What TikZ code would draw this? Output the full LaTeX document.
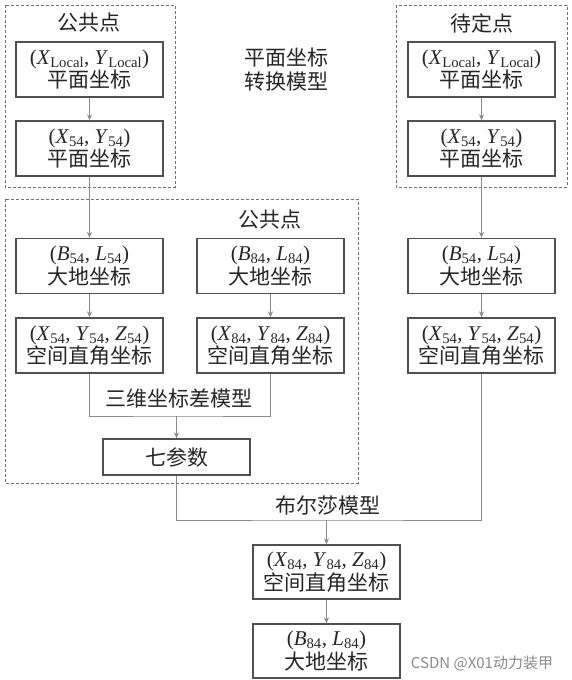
\documentclass[tikz,border=0pt]{standalone}
\usepackage{fontspec}
\setmainfont{Liberation Serif}
\newfontfamily\cjk{Noto Sans CJK SC}
\usetikzlibrary{arrows.meta}
\definecolor{boxc}{HTML}{505050}
\definecolor{linec}{HTML}{8A8A8A}
\definecolor{dashc}{HTML}{707070}
\definecolor{txtc}{HTML}{262626}
\newcommand{\zh}[1]{{\cjk #1}}
\newcommand{\vs}[2]{\textit{#1}\textsubscript{#2}}
\begin{document}
\begin{tikzpicture}[x=1pt,y=-1pt,
  every node/.style={text=txtc},
  box/.style={draw=boxc, line width=1.3pt, minimum width=147pt, minimum height=55pt,
    align=center, inner sep=0pt, font=\fontsize{21}{23.5}\selectfont},
  conn/.style={draw=linec, line width=1pt},
  arr/.style={conn, -{Stealth[length=6pt,width=5pt]}},
  grp/.style={draw=dashc, line width=0.8pt, dash pattern=on 3pt off 2pt},
  lbl/.style={font=\fontsize{21}{25}\selectfont\cjk, inner sep=0pt, align=center}]
\useasboundingbox[fill=white] (0,0) rectangle (572,680);

% dashed groups
\draw[grp] (5,5) rectangle (175,187);
\draw[grp] (396,5) rectangle (567,187);
\draw[grp] (5,199) rectangle (358,483);

% group labels
\node[lbl] (g1) at (89,23) {公共点};
\node[lbl] (g2) at (482,23) {待定点};
\node[lbl] (g3) at (270,220) {公共点};
\node[lbl] (m1) at (286,70) {平面坐标\\[-1pt]转换模型};

% left top column
\node[box] (a1) at (89.5,69.5) {(\vs{X}{Local}, \vs{Y}{Local})\\\zh{平面坐标}};
\node[box] (a2) at (89.5,148.5) {(\vs{X}{54}, \vs{Y}{54})\\\zh{平面坐标}};
% right top column
\node[box] (r1) at (481.5,69.5) {(\vs{X}{Local}, \vs{Y}{Local})\\\zh{平面坐标}};
\node[box] (r2) at (481.5,148.5) {(\vs{X}{54}, \vs{Y}{54})\\\zh{平面坐标}};

% middle rows
\node[box] (b1) at (89.5,266) {(\vs{B}{54}, \vs{L}{54})\\\zh{大地坐标}};
\node[box] (b2) at (270.5,266) {(\vs{B}{84}, \vs{L}{84})\\\zh{大地坐标}};
\node[box] (r3) at (481.5,266) {(\vs{B}{54}, \vs{L}{54})\\\zh{大地坐标}};
\node[box] (c1) at (89.5,345.5) {(\vs{X}{54}, \vs{Y}{54}, \vs{Z}{54})\\\zh{空间直角坐标}};
\node[box] (c2) at (270.5,345.5) {(\vs{X}{84}, \vs{Y}{84}, \vs{Z}{84})\\\zh{空间直角坐标}};
\node[box] (r4) at (481.5,345.5) {(\vs{X}{54}, \vs{Y}{54}, \vs{Z}{54})\\\zh{空间直角坐标}};

\node[box, minimum height=36pt] (s7) at (176.5,457) {\zh{七参数}};

% bottom
\node[box, minimum height=54pt] (f1) at (326.5,572) {(\vs{X}{84}, \vs{Y}{84}, \vs{Z}{84})\\\zh{空间直角坐标}};
\node[box, minimum height=54pt] (f2) at (326.5,651) {(\vs{B}{84}, \vs{L}{84})\\\zh{大地坐标}};

% connectors
\draw[arr] (a1) -- (a2);
\draw[arr] (a2) -- (b1);
\draw[arr] (r1) -- (r2);
\draw[arr] (r2) -- (r3);
\draw[arr] (r3) -- (r4);
\draw[arr] (b1) -- (c1);
\draw[arr] (b2) -- (c2);

\coordinate (j1) at (176.5,416);
\draw[conn] (c1.south) |- (j1) -| (c2.south);
\draw[arr] (j1) -- (s7.north);
\node[lbl] (m2) at (179,399) {三维坐标差模型};

\coordinate (j2) at (326.5,520);
\draw[conn] (s7.south) |- (j2) -| (r4.south);
\draw[arr] (j2) -- (f1.north);
\node[lbl] (m3) at (328,506) {布尔莎模型};

\draw[arr] (f1) -- (f2);

\node[font=\fontsize{15}{17}\selectfont\cjk, text=linec, inner sep=0pt] (wm) at (482,663) {CSDN @X01动力装甲};
\end{tikzpicture}
\end{document}
